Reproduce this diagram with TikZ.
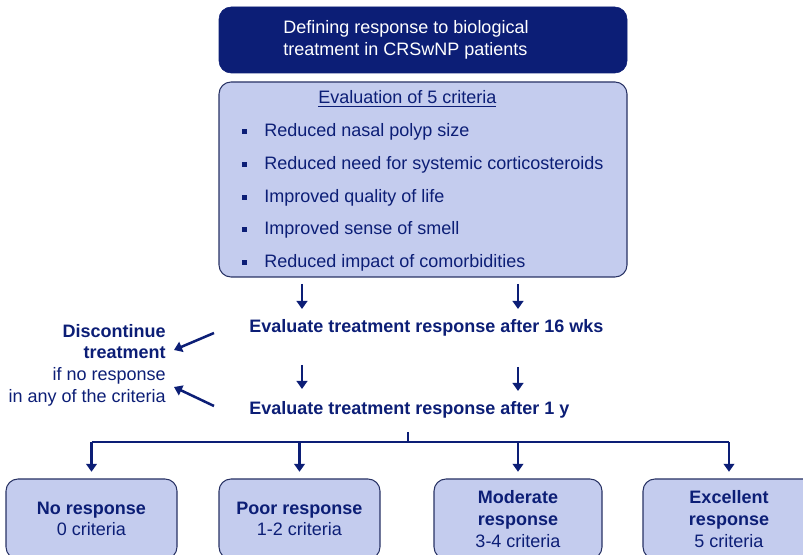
\documentclass[tikz,border=0pt]{standalone}
\usepackage{fontspec}
\setmainfont{Liberation Sans}
\usetikzlibrary{arrows.meta}

\definecolor{navy}{RGB}{12,30,118}
\definecolor{lilac}{RGB}{196,204,238}
\definecolor{rim}{RGB}{40,50,100}

\tikzset{
    txt/.style={font=\fontsize{13.5}{16.3}\selectfont, text=navy, inner sep=0pt},
    titlebox/.style={draw=navy, fill=navy, rounded corners=9pt, minimum width=306pt, minimum height=49.5pt},
    critbox/.style={draw=rim, fill=lilac, line width=0.8pt, rounded corners=9pt, minimum width=306pt, minimum height=146.25pt},
    resbox/.style={txt, draw=rim, fill=lilac, line width=0.8pt, rounded corners=9pt, minimum height=60pt, align=center},
    item/.style={txt, anchor=base west},
    arr/.style={navy, line width=1.9pt, -{Triangle[length=6pt,width=8pt]}},
}

\begin{document}
\begin{tikzpicture}[x=0.75pt, y=-0.75pt]
        \useasboundingbox (0, 0) rectangle (803, 555);
        \clip (0, 0) rectangle (803, 555);

        % header and criteria
        \node[titlebox] (title) at (423, 40) {};
        \node[txt, text=white, align=left] (titletext) at (406, 40) {Defining response to biological\\treatment in CRSwNP patients};
        \node[critbox] (crit) at (423, 179.5) {};
        \node[item] (head) at (318, 104) {\underline{Evaluation of 5 criteria}};
        \foreach \y/\t in {137/Reduced nasal polyp size,
                           170/Reduced need for systemic corticosteroids,
                           202.5/Improved quality of life,
                           235/Improved sense of smell,
                           268/Reduced impact of comorbidities} {
            \fill[navy] (242, \y-7.5) rectangle (247, \y-2.5);
            \node[item] at (264, \y) {\t};
        }

        % evaluation steps
        \node[item, font=\fontsize{13.5}{16.3}\selectfont\bfseries] (eval16) at (249, 333) {Evaluate treatment response after 16 wks};
        \node[item, font=\fontsize{13.5}{16.3}\selectfont\bfseries] (eval1y) at (249, 415) {Evaluate treatment response after 1 y};
        \node[txt, align=right, anchor=east] (stop) at (166, 365) {\textbf{Discontinue}\\\textbf{treatment}\\if no response\\in any of the criteria};

        \coordinate (a1) at (302, 284);
        \coordinate (a2) at (518, 284);
        \coordinate (b1) at (302, 365);
        \coordinate (b2) at (518, 367);
        \draw[arr] (a1) -- (302, 309);
        \draw[arr] (a2) -- (518, 309);
        \draw[arr] (b1) -- (302, 389);
        \draw[arr] (b2) -- (518, 391);

        \coordinate (s1) at (214, 333);
        \coordinate (s2) at (214, 406);
        \draw[arr] (s1) -- (174, 350);
        \draw[arr] (s2) -- (174, 387);

        % outcomes
        \node[resbox, minimum width=128.25pt] (none) at (91.5, 519) {\textbf{No response}\\0 criteria};
        \node[resbox, minimum width=120.75pt] (poor) at (299.5, 519) {\textbf{Poor response}\\1-2 criteria};
        \node[resbox, minimum width=126pt] (moderate) at (518, 519) {\textbf{Moderate}\\\textbf{response}\\3-4 criteria};
        \node[resbox, minimum width=129pt] (excellent) at (729, 519) {\textbf{Excellent}\\\textbf{response}\\5 criteria};

        \coordinate (stem) at (408, 432);
        \coordinate (bar) at (408, 442);
        \draw[navy, line width=2.2pt] (stem) -- (bar);
        \draw[navy, line width=2.2pt] (none.north |- bar) -- (excellent.north |- bar);
        \foreach \b in {none, poor, moderate, excellent}
            \draw[arr] (\b.north |- bar) -- ([yshift=5pt]\b.north);

\end{tikzpicture}
\end{document}
